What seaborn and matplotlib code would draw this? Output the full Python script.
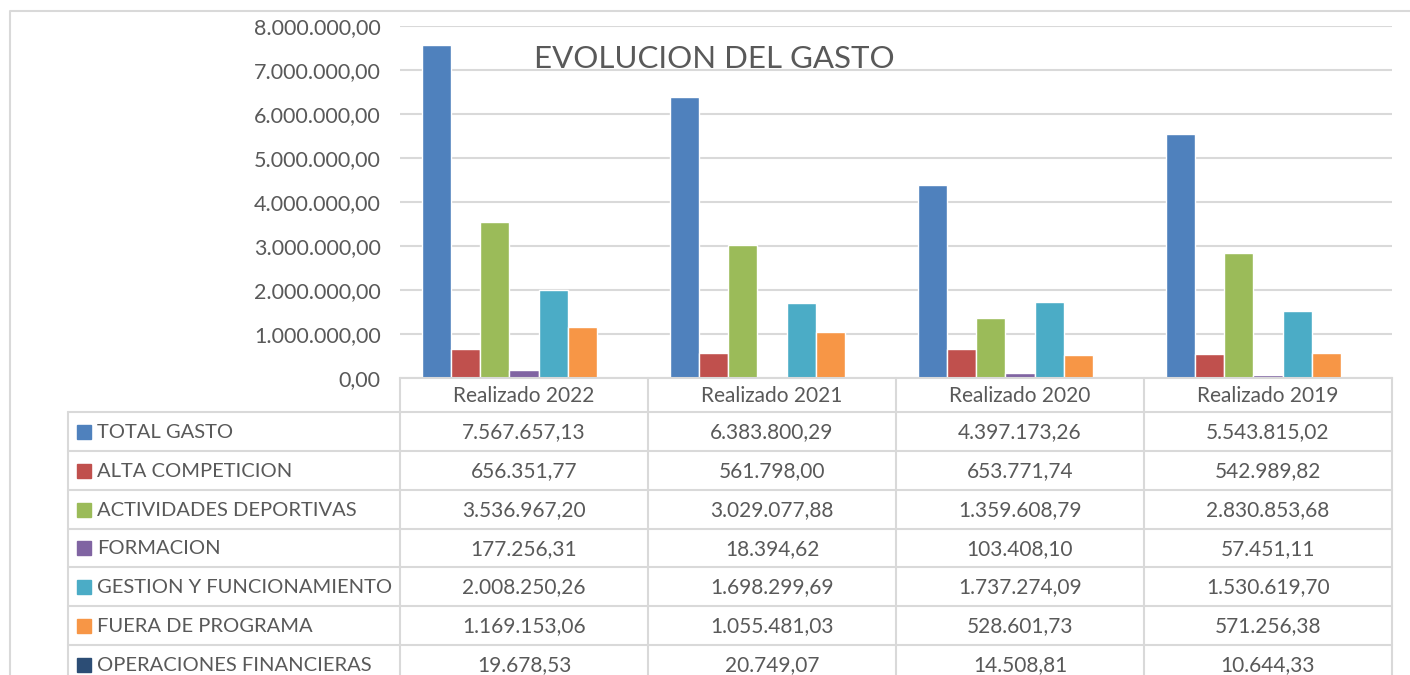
import numpy as np
import pandas as pd
import matplotlib
matplotlib.use("Agg")
import matplotlib.pyplot as plt
from matplotlib.ticker import FuncFormatter
import seaborn as sns

anios = ["Realizado 2022", "Realizado 2021", "Realizado 2020", "Realizado 2019"]
series = ["TOTAL GASTO", "ALTA COMPETICION", "ACTIVIDADES DEPORTIVAS", "FORMACION",
          "GESTION Y FUNCIONAMIENTO", "FUERA DE PROGRAMA", "OPERACIONES FINANCIERAS"]
total_gasto = [7567657.13, 6383800.29, 4397173.26, 5543815.02]
alta_competicion = [656351.77, 561798.00, 653771.74, 542989.82]
actividades_deportivas = [3536967.20, 3029077.88, 1359608.79, 2830853.68]
formacion = [177256.31, 18394.62, 103408.10, 57451.11]
gestion_funcionamiento = [2008250.26, 1698299.69, 1737274.09, 1530619.70]
fuera_programa = [1169153.06, 1055481.03, 528601.73, 571256.38]
operaciones_financieras = [19678.53, 20749.07, 14508.81, 10644.33]
colores = ["#4F81BD", "#C0504D", "#9BBB59", "#8064A2", "#4BACC6", "#F79646", "#2C4D75"]

valores = [total_gasto, alta_competicion, actividades_deportivas, formacion,
           gestion_funcionamiento, fuera_programa, operaciones_financieras]

df = pd.DataFrame([
    {"anio": a, "serie": s, "valor": v[i]}
    for s, v in zip(series, valores)
    for i, a in enumerate(anios)
])


def fmt_es(x):
    s = f"{x:,.2f}"
    return s.replace(",", "X").replace(".", ",").replace("X", ".")


sns.set_theme(style="white")
plt.rcParams["font.family"] = ["Lato", "DejaVu Sans"]

W, H = 1410, 675
fig = plt.figure(figsize=(W / 100, H / 100), dpi=100)
gris = "#D9D9D9"
texto = "#595959"

# pixel helpers
def ax_rect(x0, y0, x1, y1):
    return [x0 / W, 1 - y1 / H, (x1 - x0) / W, (y1 - y0) / H]

# overlay in pixel coords for the frame and data table
ov = fig.add_axes([0, 0, 1, 1])
ov.set_xlim(0, W)
ov.set_ylim(H, 0)
ov.axis("off")

ax = fig.add_axes(ax_rect(400, 26, 1392, 378))
sns.barplot(data=df, x="anio", y="valor", hue="serie", hue_order=series,
            palette=colores, width=0.82, saturation=1, legend=False, ax=ax)
ax.set_ylim(0, 8000000)
ax.set_yticks(np.arange(0, 8000001, 1000000))
ax.yaxis.set_major_formatter(FuncFormatter(lambda v, p: fmt_es(v)))
ax.tick_params(axis="y", length=0, pad=14, labelsize=15.5, labelcolor=texto)
ax.set_xticks([])
ax.set_xlabel("")
ax.set_ylabel("")
ax.grid(axis="y", color=gris, lw=1.5)
ax.set_axisbelow(True)
for sp in ["top", "right", "left"]:
    ax.spines[sp].set_visible(False)
ax.spines["bottom"].set_color(gris)
ax.spines["bottom"].set_linewidth(1.5)
ax.set_facecolor("none")
ax.text(0.317, 0.905, "EVOLUCION DEL GASTO", transform=ax.transAxes,
        ha="center", va="center", fontsize=22.5, color=texto)

# outer chart border
ov.plot([10, 10, W + 5], [H + 5, 11, 11], color=gris, lw=1.5)

# data table
col_x = [400, 648, 896, 1144, 1392]
row_y = [378, 412, 451, 490, 529, 567, 606, 645, 684]
lk = dict(color=gris, lw=1.5)
for x in col_x:
    ov.plot([x, x], [378, H + 5], **lk)
ov.plot([68, 68], [412, H + 5], **lk)
for y in row_y[1:]:
    ov.plot([68, 1392], [y, y], **lk)

for j, a in enumerate(anios):
    cx = (col_x[j] + col_x[j + 1]) / 2
    ov.text(cx, (row_y[0] + row_y[1]) / 2 + 1, a, ha="center", va="center",
            fontsize=15, color=texto)

for i, (s, v, c) in enumerate(zip(series, valores, colores)):
    cy = (row_y[i + 1] + row_y[i + 2]) / 2 + 1
    ov.add_patch(plt.Rectangle((77, cy - 8), 14, 14, color=c))
    ov.text(97, cy, s, ha="left", va="center", fontsize=14.5, color=texto)
    for j in range(len(anios)):
        cx = (col_x[j] + col_x[j + 1]) / 2
        ov.text(cx, cy, fmt_es(v[j]), ha="center", va="center",
                fontsize=15, color=texto)

fig.savefig("out.png", dpi=100)
